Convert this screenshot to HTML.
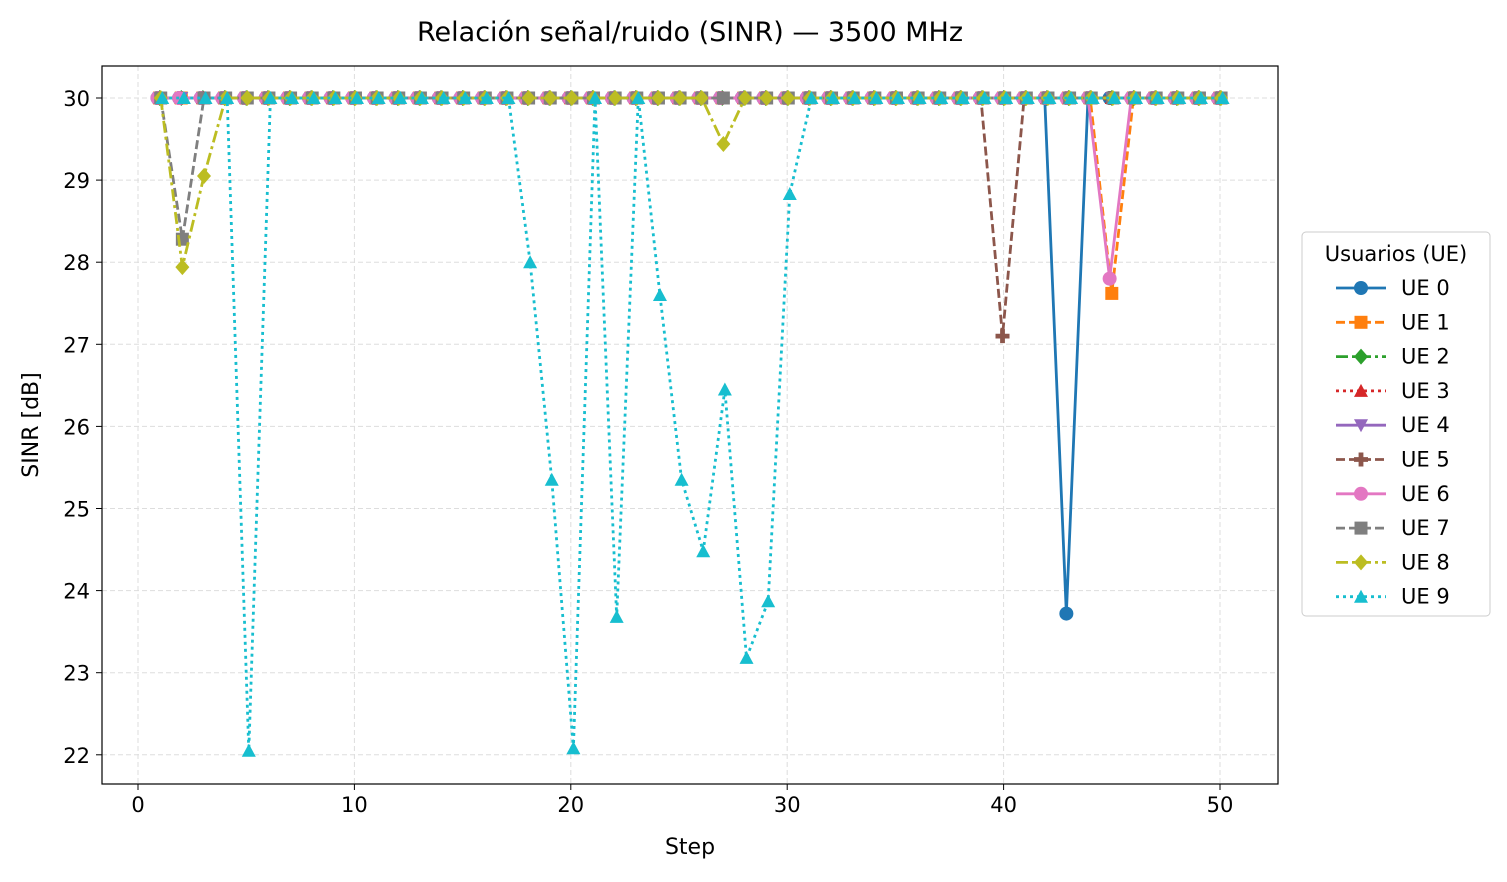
<!DOCTYPE html>
<html><head><meta charset="utf-8"><style>
body{margin:0;background:#fff;font-family:"Liberation Sans","DejaVu Sans",sans-serif}
svg text{font-family:"DejaVu Sans","Liberation Sans",sans-serif}
</style></head><body>
<svg id="c" width="1507" height="877" xmlns="http://www.w3.org/2000/svg"></svg>
<script>
const steps=[];for(let s=1;s<=50;s++)steps.push(s);
const ue0Dips=[[43,23.72]];
const ue1Dips=[[45,27.62]];
const ue2Dips=[];
const ue3Dips=[];
const ue4Dips=[];
const ue5Dips=[[40,27.1]];
const ue6Dips=[[45,27.8]];
const ue7Dips=[[2,28.28]];
const ue8Dips=[[2,27.94],[3,29.05],[27,29.44]];
const ue9Dips=[[5,22.05],[18,28.0],[19,25.35],[20,22.08],[22,23.68],[24,27.6],[25,25.35],[26,24.48],[27,26.45],[28,23.18],[29,23.87],[30,28.83]];
const xTicks=[0,10,20,30,40,50];
const yTicks=[22,23,24,25,26,27,28,29,30];
const seriesDips=[ue0Dips,ue1Dips,ue2Dips,ue3Dips,ue4Dips,ue5Dips,ue6Dips,ue7Dips,ue8Dips,ue9Dips];
const colors=['#1f77b4','#ff7f0e','#2ca02c','#d62728','#9467bd','#8c564b','#e377c2','#7f7f7f','#bcbd22','#17becf'];
const dashes=['','9,4','12,4,3,4','3,4','','9,4','','9,4','12,4,3,4','3,4'];
const markers=['o','s','D','^','v','P','o','s','D','^'];
const offs=[-0.1,0.0,0,0,0,-0.05,-0.1,0.05,0.05,0.12];
const L=102,R=1278,T=66,B=784;
const X=v=>138+(v)*21.64;
const Y=v=>98+(30-v)*82.1;
const svg=document.getElementById('c');
const NS='http://www.w3.org/2000/svg';
function mk(t,a,p){const e=document.createElementNS(NS,t);for(const k in a)e.setAttribute(k,a[k]);(p||svg).appendChild(e);return e;}
xTicks.forEach(t=>{const g=mk('line',{x1:X(t),x2:X(t),y1:T,y2:B,stroke:'#ddd','stroke-dasharray':'5,3','stroke-width':1});

mk('line',{x1:X(t),x2:X(t),y1:B,y2:B+6,stroke:'#000'});
const tx=mk('text',{x:X(t),y:B+28,'text-anchor':'middle','font-size':21});tx.textContent=t;
});
yTicks.forEach(t=>{const g=mk('line',{x1:L,x2:R,y1:Y(t),y2:Y(t),stroke:'#ddd','stroke-dasharray':'5,3','stroke-width':1});

mk('line',{x1:L-6,x2:L,y1:Y(t),y2:Y(t),stroke:'#000'});
const tx=mk('text',{x:L-12,y:Y(t)+8,'text-anchor':'end','font-size':21});tx.textContent=t;
});
function marker(type,x,y,c,p){
 const s=7;let e;
 if(type==='o')e=mk('circle',{cx:x,cy:y,r:s},p);
 else if(type==='s')e=mk('rect',{x:x-s+0.5,y:y-s+0.5,width:2*s-1,height:2*s-1},p);
 else if(type==='D')e=mk('polygon',{points:`${x},${y-s-1} ${x+s},${y} ${x},${y+s+1} ${x-s},${y}`},p);
 else if(type==='^')e=mk('polygon',{points:`${x},${y-s} ${x+s},${y+s-1} ${x-s},${y+s-1}`},p);
 else if(type==='v')e=mk('polygon',{points:`${x},${y+s} ${x+s},${y-s+1} ${x-s},${y-s+1}`},p);
 else {const a=2.4;e=mk('polygon',{points:`${x-a},${y-s} ${x+a},${y-s} ${x+a},${y-a} ${x+s},${y-a} ${x+s},${y+a} ${x+a},${y+a} ${x+a},${y+s} ${x-a},${y+s} ${x-a},${y+a} ${x-s},${y+a} ${x-s},${y-a} ${x-a},${y-a}`},p);}
 e.setAttribute('fill',c);return e;}
seriesDips.forEach((d,i)=>{
 const m={};d.forEach(([s,v])=>m[s]=v);
 const vals=steps.map(s=>m[s]!==undefined?m[s]:30);
 const off=offs[i];
 const g=mk('g',{});
 
 const pts=steps.map((s,k)=>[X(s+off),Y(vals[k])]);
 const pl=mk('polyline',{points:pts.map(p=>p.join(',')).join(' '),fill:'none',stroke:colors[i],'stroke-width':2.8,'stroke-dasharray':dashes[i]},g);
 
 pts.forEach(p=>{const e=marker(markers[i],p[0],p[1],colors[i],g);
  });
});
const fr=mk('rect',{x:L,y:T,width:R-L,height:B-T,fill:'none',stroke:'#000','stroke-width':1.2});

const ti=mk('text',{x:690,y:41,'text-anchor':'middle','font-size':27});ti.textContent='Relación señal/ruido (SINR) — 3500 MHz';

const xl=mk('text',{x:690,y:854,'text-anchor':'middle','font-size':22});xl.textContent='Step';

const yl=mk('text',{x:38,y:425,'text-anchor':'middle','font-size':22,transform:'rotate(-90 38 425)'});yl.textContent='SINR [dB]';

const lg=mk('g',{});

mk('rect',{x:1302,y:232,width:188,height:384,rx:4,fill:'#fff',stroke:'#ccc'},lg);
const lt=mk('text',{x:1396,y:261,'text-anchor':'middle','font-size':21},lg);lt.textContent='Usuarios (UE)';

colors.forEach((c,i)=>{const y=288+i*34.3;
 const e=mk('g',{},lg);
 
 mk('line',{x1:1336,x2:1386,y1:y,y2:y,stroke:c,'stroke-width':2.8,'stroke-dasharray':dashes[i]},e);
 marker(markers[i],1361,y,c,e);
 const t=mk('text',{x:1401,y:y+7,'font-size':21},e);t.textContent='UE '+i;});
</script>
</body></html>
